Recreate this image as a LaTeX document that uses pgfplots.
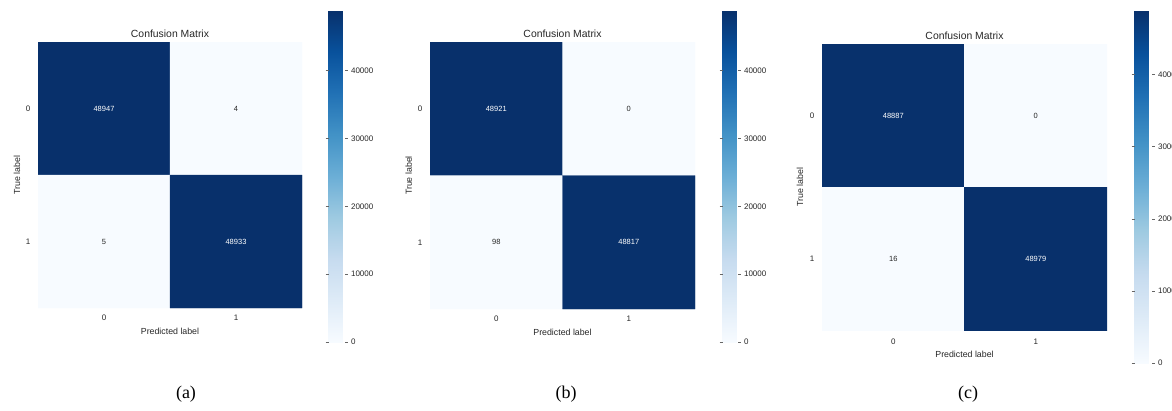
\documentclass[border=0pt]{standalone}
\usepackage{fontspec}
\setmainfont{Liberation Sans}
\newfontfamily\capfont{Liberation Serif}
\usepackage{pgfplots}
\usepackage{pgfplotstable}
\pgfplotsset{compat=1.18}
\newcommand\tkf{\fontsize{8}{9}\selectfont}
\newcommand\lbf{\fontsize{8.8}{10}\selectfont}
\newcommand\ttf{\fontsize{10.4}{12}\selectfont}
\newcommand\anf{\fontsize{7.5}{9}\selectfont}
\pgfplotsset{
  colormap={blues}{rgb255=(247,251,255) rgb255=(222,235,247) rgb255=(198,219,239) rgb255=(158,202,225) rgb255=(107,174,214) rgb255=(66,146,198) rgb255=(33,113,181) rgb255=(8,81,156) rgb255=(8,48,107)},
  cm/.style={
    scale only axis, y dir=reverse,
    xmin=-0.5, xmax=1.5, ymin=-0.5, ymax=1.5,
    xtick={0,1}, ytick={0,1},
    axis line style={draw=none}, major tick length=0pt,
    /pgf/number format/assume math mode=true,
    ticklabel style={font=\tkf, text=black!85},
    xticklabel style={anchor=center, yshift=-10pt},
    yticklabel style={anchor=center, xshift=-10pt},
    colormap name=blues, colorbar, point meta min=0,
    title={Confusion Matrix},
    title style={font=\ttf, text=black!85, at={(axis description cs:0.5,1)}, anchor=south, yshift=-5pt},
    xlabel={Predicted label}, ylabel={True label},
    label style={font=\lbf, text=black!85},
  },
  cb/.style n args={6}{
    colorbar style={
      scale only axis,
      width=#1, height=#2,
      at={(parent axis.north east)}, anchor=north west,
      xshift=#3, yshift=#4,
      ytick={0,10000,20000,30000,40000},
      scaled y ticks=false,
      /pgf/number format/assume math mode=true,
      yticklabel style={font=\tkf, text=black!85, /pgf/number format/1000 sep={}, anchor=west, xshift=0pt},
      axis line style={draw=none},
      tick align=outside, major tick length=3pt,
      tick style={draw=black!60, line width=0.6pt},
    },
  },
  ann/.style={draw=none, mark=none, nodes near coords, point meta=explicit symbolic,
    nodes near coords align=center,
    every node near coord/.append style={font=\anf, text=#1}},
}
\pgfplotstableread{
x y c
0 0 48947
1 0 4
0 1 5
1 1 48933
}\cma
\pgfplotstableread{
x y c
0 0 48921
1 0 0
0 1 98
1 1 48817
}\cmb
\pgfplotstableread{
x y c
0 0 48887
1 0 0
0 1 16
1 1 48979
}\cmc
\begin{document}
\begin{tikzpicture}
\path[use as bounding box] (0,0) rectangle (1172pt,-410pt);
% (a)
\begin{axis}[cm, width=264pt, height=266pt, at={(38pt,-308pt)}, anchor=south west,
  point meta max=48947,
  xlabel style={at={(axis description cs:0.5,-0.087)}, anchor=center},
  ylabel style={at={(axis description cs:-0.08,0.5)}, anchor=center},
  cb={16pt}{332pt}{18pt}{32pt}]
\addplot[matrix plot*, mesh/cols=2, point meta=explicit] table[x=x, y=y, meta=c] {\cma};
\addplot[ann=white] coordinates {(0,0)[48947] (1,1)[48933]};
\addplot[ann=black!85] coordinates {(1,0)[4] (0,1)[5]};
\end{axis}
% (b)
\begin{axis}[cm, width=265pt, height=267pt, at={(430pt,-309pt)}, anchor=south west,
  point meta max=48921,
  xlabel style={at={(axis description cs:0.5,-0.087)}, anchor=center},
  ylabel style={at={(axis description cs:-0.08,0.5)}, anchor=center},
  cb={15pt}{332pt}{19pt}{32pt}]
\addplot[matrix plot*, mesh/cols=2, point meta=explicit] table[x=x, y=y, meta=c] {\cmb};
\addplot[ann=white] coordinates {(0,0)[48921] (1,1)[48817]};
\addplot[ann=black!85] coordinates {(1,0)[0] (0,1)[98]};
\end{axis}
% (c)
\begin{axis}[cm, width=285pt, height=286pt, at={(822pt,-330pt)}, anchor=south west,
  point meta max=48979,
  xticklabel style={yshift=-2pt},
  xlabel style={at={(axis description cs:0.5,-0.084)}, anchor=center},
  ylabel style={at={(axis description cs:-0.077,0.5)}, anchor=center},
  cb={17pt}{353pt}{19pt}{34pt}]
\addplot[matrix plot*, mesh/cols=2, point meta=explicit] table[x=x, y=y, meta=c] {\cmc};
\addplot[ann=white] coordinates {(0,0)[48887] (1,1)[48979]};
\addplot[ann=black!85] coordinates {(1,0)[0] (0,1)[16]};
\end{axis}
\node[font=\capfont\fontsize{18}{20}\selectfont, text=black] at (186pt,-394pt) {(a)};
\node[font=\capfont\fontsize{18}{20}\selectfont, text=black] at (566pt,-394pt) {(b)};
\node[font=\capfont\fontsize{18}{20}\selectfont, text=black] at (968pt,-394pt) {(c)};
\end{tikzpicture}
\end{document}
